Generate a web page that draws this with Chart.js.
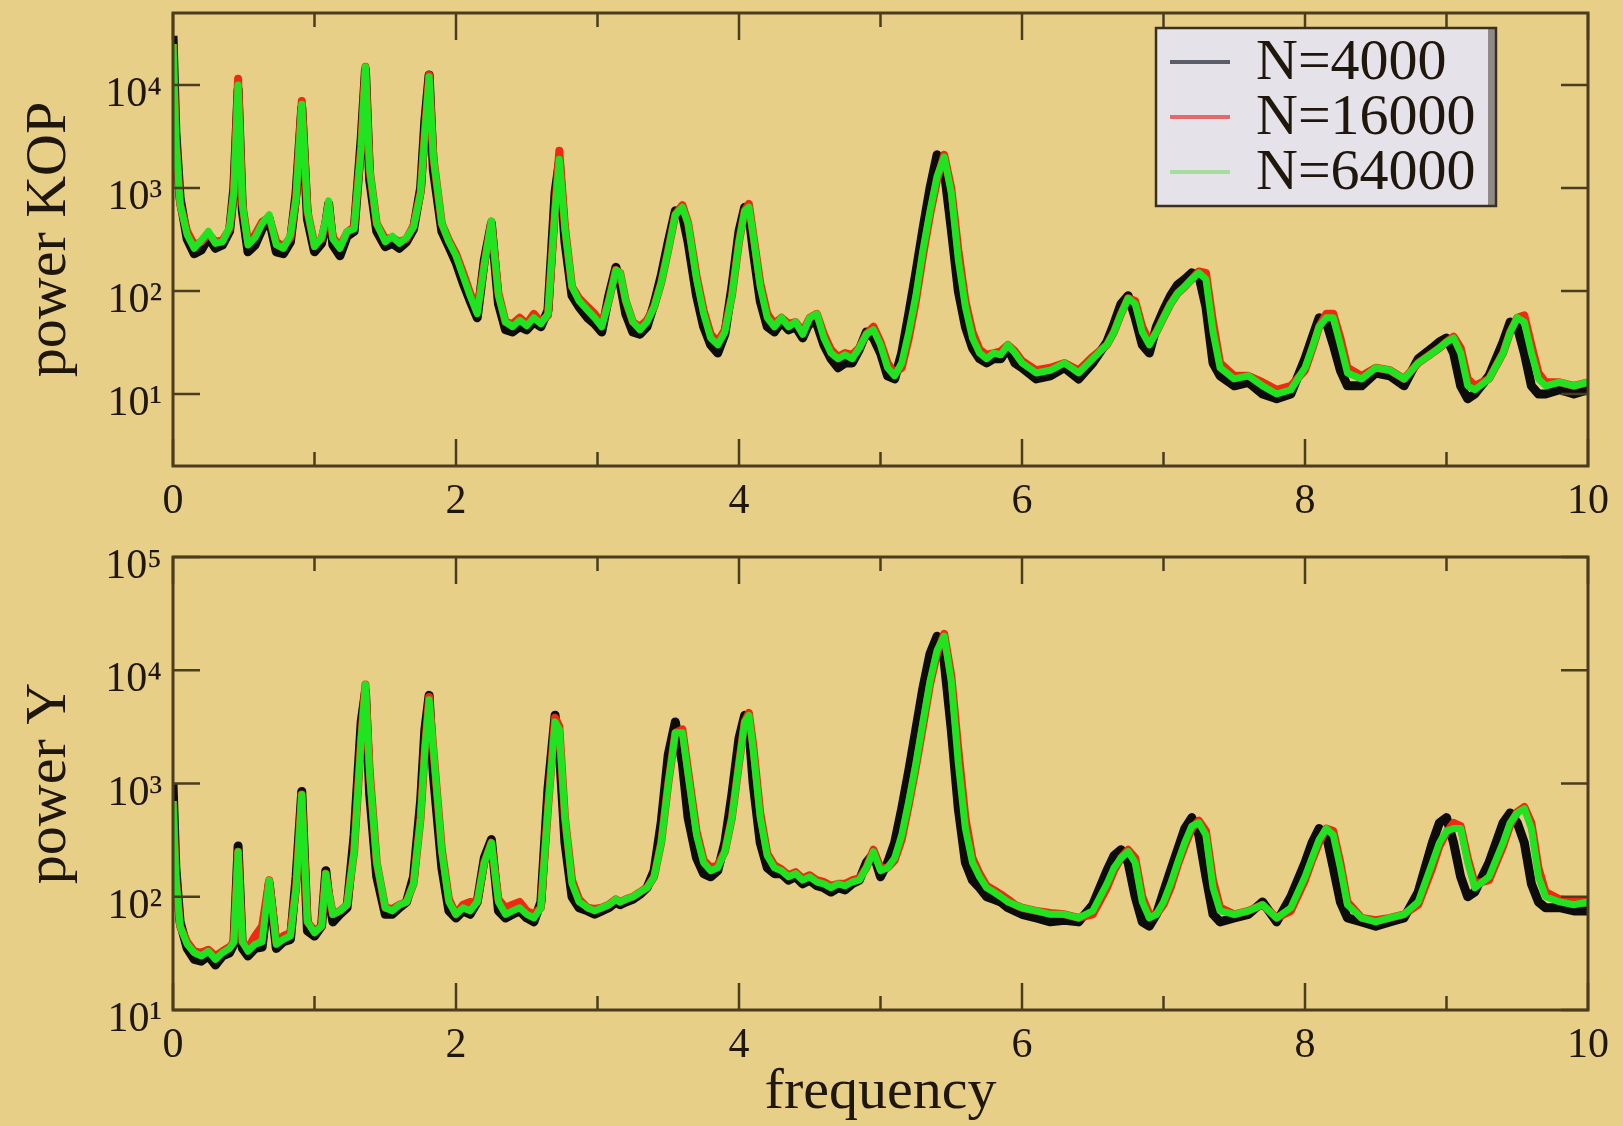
<!DOCTYPE html>
<html><head><meta charset="utf-8">
<script src="https://cdn.jsdelivr.net/npm/chart.js@4.4.1/dist/chart.umd.min.js"></script>
<style>
html,body{margin:0;padding:0;background:#e8cf88;width:1623px;height:1126px;overflow:hidden}
#w1{position:absolute;left:0;top:0;width:1623px;height:540px}
#w2{position:absolute;left:0;top:540px;width:1623px;height:586px}
canvas{display:block}
</style></head><body>
<div id="w1"><canvas id="c1" width="1623" height="540"></canvas></div>
<div id="w2"><canvas id="c2" width="1623" height="586"></canvas></div>
<script>
const seriesNames = ['N=4000', 'N=16000', 'N=64000'];
const freq = [
0,0.02,0.05,0.1,0.15,0.2,0.25,0.3,0.35,0.4,
0.43,0.46,0.49,0.53,0.58,0.63,0.68,0.73,0.78,0.83,
0.87,0.91,0.95,1.0,1.05,1.08,1.1,1.13,1.18,1.23,
1.28,1.33,1.36,1.39,1.44,1.5,1.55,1.6,1.65,1.7,
1.75,1.78,1.81,1.84,1.9,1.95,2.0,2.05,2.1,2.15,
2.2,2.25,2.3,2.35,2.4,2.45,2.5,2.55,2.6,2.65,
2.7,2.73,2.77,2.82,2.87,2.93,2.98,3.03,3.08,3.13,
3.16,3.2,3.25,3.3,3.35,3.4,3.45,3.5,3.55,3.6,
3.64,3.7,3.75,3.8,3.85,3.9,3.95,4.0,4.04,4.07,
4.1,4.15,4.2,4.25,4.3,4.35,4.4,4.45,4.5,4.55,
4.6,4.65,4.7,4.75,4.8,4.85,4.9,4.95,5.0,5.05,
5.1,5.15,5.2,5.25,5.3,5.35,5.4,5.45,5.5,5.55,
5.6,5.65,5.7,5.75,5.8,5.85,5.9,5.95,6.0,6.1,
6.2,6.3,6.4,6.5,6.6,6.65,6.7,6.75,6.8,6.85,
6.9,6.95,7.0,7.05,7.1,7.15,7.2,7.25,7.3,7.35,
7.4,7.5,7.6,7.7,7.8,7.9,8.0,8.05,8.1,8.15,
8.2,8.25,8.3,8.4,8.5,8.6,8.7,8.8,8.9,8.95,
9.0,9.05,9.1,9.15,9.2,9.3,9.4,9.45,9.5,9.55,
9.6,9.65,9.7,9.8,9.9,10.0];

// power KOP (top panel)
const kopN4000 = [
30000,3500,800,320,230,250,330,260,280,380,
1000,9000,600,240,280,400,500,240,230,300,
900,6000,500,240,290,450,700,280,220,340,
380,3000,14000,1200,380,270,290,260,300,400,
1000,4500,12500,1500,380,270,190,120,80,55,
200,450,75,42,40,45,42,50,45,65,
900,1800,300,90,70,55,48,40,90,170,
120,60,40,38,45,75,140,300,600,550,
300,90,45,30,25,38,110,380,650,550,
250,80,45,40,50,42,45,35,50,48,
30,22,18,20,20,27,40,35,25,15,
14,25,60,150,400,1000,2100,1500,400,100,
45,28,22,20,22,22,28,20,18,14,
15,18,14,20,32,48,75,90,55,30,
25,45,65,90,115,130,150,140,70,20,
15,12,13,10,9,10,22,35,55,50,
30,17,12,12,16,15,12,22,28,32,
35,25,12,9,10,15,32,50,45,25,
12,10,10,11,10,11];
const kopN16000 = [
25000,3000,700,380,280,300,360,300,310,400,
900,11500,700,300,350,470,520,300,270,330,
800,7000,600,280,320,480,700,330,270,370,
420,2500,15000,1500,450,320,330,300,320,430,
900,3500,12500,2000,450,310,230,150,95,65,
180,470,95,50,48,55,48,60,50,58,
600,2300,420,110,85,70,60,48,80,160,
150,80,50,45,52,70,120,250,550,680,
460,140,65,38,32,42,90,300,600,700,
360,120,60,48,55,48,50,40,55,60,
38,27,23,25,24,28,38,45,32,20,
16,18,35,80,220,550,1200,2100,1000,250,
80,40,27,24,25,26,30,26,21,17,
18,20,17,23,30,40,60,85,80,45,
32,40,55,75,95,110,130,155,150,50,
20,15,15,13,11,12,17,27,45,60,
60,35,18,15,18,17,14,20,25,28,
32,36,28,14,12,14,25,40,55,58,
30,16,13,13,12,13];
const kopN64000 = [
25000,3000,700,350,260,310,380,290,300,420,
900,10000,700,280,330,450,550,280,260,350,
800,6500,600,270,330,500,750,320,260,380,
400,2500,15000,1500,450,300,340,290,330,420,
900,3500,12000,2000,450,300,220,140,90,60,
180,480,90,50,45,52,46,55,48,60,
600,1900,400,110,80,65,55,45,80,160,
150,80,50,42,50,70,120,250,550,650,
450,130,60,35,30,40,90,300,600,650,
350,110,55,45,55,45,50,38,55,60,
35,25,22,24,22,28,38,42,30,18,
15,20,40,90,250,600,1300,2000,900,200,
70,35,25,22,25,24,30,25,20,16,
17,20,16,22,30,40,60,85,75,40,
30,40,55,75,95,110,130,150,130,40,
18,14,15,12,10,11,18,28,45,55,
55,30,16,14,18,17,14,20,25,28,
32,35,25,12,11,14,25,40,55,50,
25,14,12,13,12,13];

// power Y (bottom panel)
const yN4000 = [
1000,180,60,35,28,27,30,25,30,32,
38,280,35,30,35,36,130,35,40,42,
150,850,50,45,55,170,100,60,70,80,
350,3500,6500,800,150,70,70,80,90,150,
700,3000,6000,1200,180,75,65,75,70,90,
220,320,75,65,70,75,65,60,90,900,
4000,2000,300,100,80,75,70,75,80,90,
85,90,95,105,120,170,450,1800,3500,1500,
500,220,160,150,170,300,800,2500,4000,3000,
1000,300,180,160,160,140,150,130,140,125,
120,110,120,115,130,140,200,240,150,200,
300,600,1300,3000,7000,14000,20000,12000,3000,600,
200,140,120,100,95,90,80,75,70,65,
60,62,60,85,170,230,260,200,100,60,
55,70,110,170,260,400,500,350,150,70,
60,65,70,90,60,100,200,300,400,350,
180,90,65,60,55,60,65,110,300,450,
500,300,150,100,110,200,450,550,450,300,
130,90,80,80,75,75];
const yN16000 = [
700,150,55,40,33,32,34,30,33,36,
40,250,40,35,45,55,140,40,45,48,
120,800,60,50,55,160,110,70,75,85,
250,2500,7500,1300,200,80,78,85,90,130,
500,2000,5800,2000,260,95,70,85,90,90,
200,300,95,80,85,90,75,70,80,600,
3800,3200,500,140,95,80,78,80,85,95,
90,95,100,110,120,150,300,1000,2800,3000,
1300,380,210,180,190,250,500,1500,3500,4200,
2200,550,240,190,175,155,165,145,155,140,
135,125,130,130,140,145,180,260,180,180,
210,320,650,1400,3200,7500,14000,21000,9000,2000,
500,220,160,125,115,105,95,85,80,75,
72,70,65,70,120,170,220,260,220,100,
70,70,85,120,190,280,400,470,380,140,
80,70,75,85,65,75,140,210,300,400,
380,200,90,65,62,65,70,85,180,280,
370,450,420,220,130,140,280,430,560,620,
450,180,110,95,90,90];
const yN64000 = [
700,150,55,38,32,30,33,28,32,35,
40,250,40,33,38,40,140,38,42,45,
120,800,60,48,55,160,110,70,75,85,
250,2500,7500,1200,200,80,75,85,90,130,
500,2000,5500,2000,250,90,70,80,75,90,
200,300,90,70,75,80,70,65,80,600,
3500,3000,500,130,90,80,75,80,85,95,
90,95,100,110,120,150,300,1000,2800,2800,
1200,350,200,170,180,250,500,1500,3500,4000,
2000,500,230,180,170,150,160,140,150,135,
130,120,130,125,135,140,180,250,170,180,
220,350,700,1500,3500,8000,15000,20000,8000,1500,
400,200,150,120,110,100,90,85,80,75,
70,70,65,75,130,180,220,250,200,90,
65,70,90,130,200,300,420,450,350,120,
75,70,75,85,65,80,150,220,320,400,
350,180,85,65,60,65,70,90,200,300,
380,400,400,200,120,150,300,450,550,600,
400,150,100,90,85,90];

const xTickValues = [0, 2, 4, 6, 8, 10];
const xTickLabels = ['0', '2', '4', '6', '8', '10'];
const xMinorTickValues = [1, 3, 5, 7, 9];
const kopTickValues = [10, 100, 1000, 10000];
const kopTickLabels = ['10\u00B9', '10\u00B2', '10\u00B3', '10\u2074'];
const yTickValues = [10, 100, 1000, 10000, 100000];
const yTickLabels = ['10\u00B9', '10\u00B2', '10\u00B3', '10\u2074', '10\u2075'];

const SERIF = '"Liberation Serif", "Times New Roman", serif';
const INK = '#1f170c';
const FRAME = '#4a3d1e';
const lineColors = ['#0c0c0c', '#f02a12', '#1fe41f'];
const legendColors = ['#5c5d6a', '#e46a6a', '#a6dc9e'];
const lineWidths = [9, 8, 7];

function pts(vals) { return freq.map((f, i) => ({x: f, y: vals[i]})); }

const framePlugin = {
  id: 'frame',
  afterDatasetsDraw(chart, args, opts) {
    const {ctx, chartArea: a} = chart;
    const xs = chart.scales.x, ys = chart.scales.y;
    ctx.save();
    ctx.strokeStyle = FRAME;
    ctx.lineCap = 'butt';
    const seg = (x1, y1, x2, y2) => { ctx.beginPath(); ctx.moveTo(x1, y1); ctx.lineTo(x2, y2); ctx.stroke(); };
    ctx.lineWidth = 2.5;
    xTickValues.forEach(v => { const p = xs.getPixelForValue(v); seg(p, a.bottom, p, a.bottom - 27); seg(p, a.top, p, a.top + 27); });
    xMinorTickValues.forEach(v => { const p = xs.getPixelForValue(v); seg(p, a.bottom, p, a.bottom - 14); seg(p, a.top, p, a.top + 14); });
    opts.yTicks.forEach(v => { const p = ys.getPixelForValue(v); seg(a.left, p, a.left + 27, p); seg(a.right, p, a.right - 27, p); });
    ctx.lineWidth = 3;
    ctx.strokeRect(a.left, a.top, a.right - a.left, a.bottom - a.top);
    ctx.restore();
  }
};

const legendPlugin = {
  id: 'boxLegend',
  afterDraw(chart, args, opts) {
    if (!opts.show) return;
    const ctx = chart.ctx;
    const x0 = 1156, y0 = 28, w = 340, h = 178;
    ctx.save();
    ctx.fillStyle = '#e6e2ea';
    ctx.fillRect(x0, y0, w, h);
    ctx.fillStyle = '#8f8a86';
    ctx.fillRect(x0 + w - 8, y0, 8, h);
    ctx.strokeStyle = '#3b3020';
    ctx.lineWidth = 2.5;
    ctx.strokeRect(x0, y0, w, h);
    ctx.font = '58px ' + SERIF;
    ctx.textBaseline = 'middle';
    ctx.textAlign = 'left';
    chart.data.datasets.forEach((ds, i) => {
      const y = 62 + i * 55;
      ctx.strokeStyle = legendColors[i];
      ctx.lineWidth = 4;
      ctx.beginPath(); ctx.moveTo(1170, y); ctx.lineTo(1230, y); ctx.stroke();
      ctx.fillStyle = INK;
      ctx.fillText(ds.label, 1256, y + 2);
    });
    ctx.restore();
  }
};

function makeChart(id, s4000, s16000, s64000, tickVals, tickLabels, yMin, yMax, yTitle, padTop, xHeight, showXTitle, showLegend) {
  const vals = [s4000, s16000, s64000];
  return new Chart(document.getElementById(id), {
    type: 'line',
    data: {
      datasets: seriesNames.map((name, i) => ({
        label: name,
        data: pts(vals[i]),
        borderColor: lineColors[i],
        backgroundColor: lineColors[i],
        borderWidth: lineWidths[i],
        pointRadius: 0,
        tension: 0,
        fill: false,
        borderJoinStyle: 'round',
        order: 3 - i
      }))
    },
    options: {
      responsive: false,
      animation: false,
      devicePixelRatio: 1,
      layout: {padding: {top: padTop, right: 35, bottom: 0, left: 0}},
      plugins: {
        legend: {display: false},
        tooltip: {enabled: false},
        frame: {yTicks: tickVals},
        boxLegend: {show: showLegend}
      },
      scales: {
        x: {
          type: 'linear', min: 0, max: 10,
          grid: {display: false, drawTicks: false},
          border: {display: false},
          afterBuildTicks: s => { s.ticks = xTickValues.map(v => ({value: v})); },
          afterFit: s => { s.height = xHeight; s.paddingLeft = 0; s.paddingRight = 0; },
          ticks: {
            autoSkip: false, maxRotation: 0, padding: 15, color: INK,
            font: {family: SERIF, size: 42, lineHeight: 1},
            callback: v => xTickLabels[xTickValues.indexOf(v)]
          },
          title: {
            display: showXTitle, text: 'frequency', color: INK,
            font: {family: SERIF, size: 58, lineHeight: 1},
            padding: {top: 0, bottom: 4}
          }
        },
        y: {
          type: 'logarithmic', min: yMin, max: yMax,
          grid: {display: false, drawTicks: false},
          border: {display: false},
          afterBuildTicks: s => { s.ticks = tickVals.map(v => ({value: v})); },
          afterFit: s => { s.width = 173; s.paddingTop = 0; s.paddingBottom = 0; },
          ticks: {
            autoSkip: false, padding: 11, color: INK, labelOffset: 10,
            font: {family: SERIF, size: 42, lineHeight: 1},
            callback: v => tickLabels[tickVals.indexOf(v)]
          },
          title: {
            display: true, text: yTitle, color: INK,
            font: {family: SERIF, size: 58, lineHeight: 1},
            padding: {top: 21, bottom: 0}
          }
        }
      }
    },
    plugins: [framePlugin, legendPlugin]
  });
}

makeChart('c1', kopN4000, kopN16000, kopN64000, kopTickValues, kopTickLabels, 2, 50000, 'power KOP', 13, 74, false, true);
makeChart('c2', yN4000, yN16000, yN64000, yTickValues, yTickLabels, 10, 100000, 'power Y', 17, 116, true, false);
</script>
</body></html>
